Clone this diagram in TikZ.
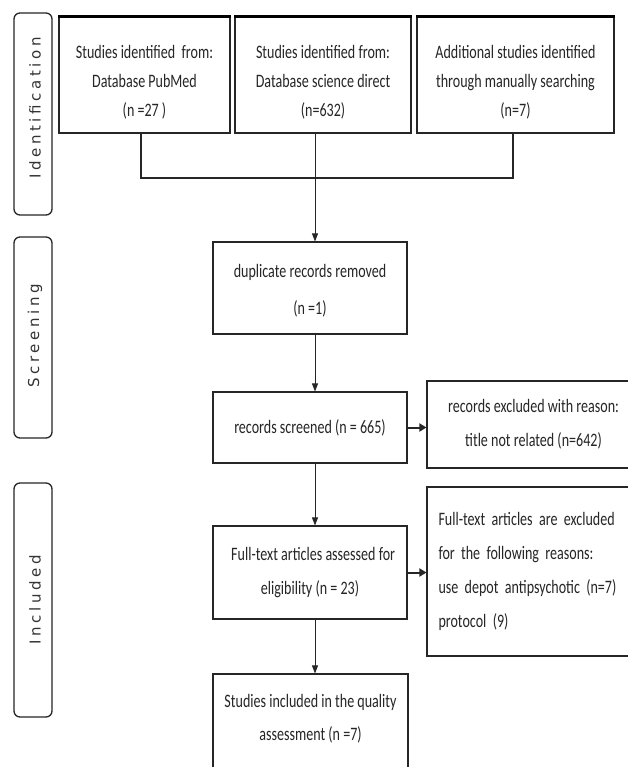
\documentclass[tikz,border=0pt]{standalone}
\usepackage{fontspec}
\usetikzlibrary{arrows.meta,calc}
\newfontfamily\boxfont{Carlito}[FakeStretch=0.74]
\newfontfamily\labfont{DejaVu Sans}[LetterSpace=24]
\tikzset{
  x=1pt, y=-1pt,
  boxnode/.style={draw=black!85, line width=1.1pt, inner sep=0pt, align=center,
    text=black!85, font=\boxfont\fontsize{19}{34}\selectfont},
  topbox/.style={boxnode, font=\boxfont\fontsize{19}{29}\selectfont, minimum height=116pt},
  txtnode/.style={inner sep=0pt, align=center, text=black!85, font=\boxfont\fontsize{19}{33}\selectfont},
  stagebox/.style={draw=black!85, line width=1.3pt, rounded corners=6pt, minimum width=38pt, inner sep=0pt},
  stagetext/.style={rotate=90, text=black!80, font=\labfont\fontsize{15}{16}\selectfont, inner sep=0pt},
  arr/.style={draw=black!85, line width=0.8pt, -{Triangle[length=8pt,width=6pt]}},
  harr/.style={draw=black!85, line width=2pt, -{Triangle[length=7pt,width=8pt]}},
  conn/.style={draw=black!85, line width=1.1pt}
}
\begin{document}
\begin{tikzpicture}
\useasboundingbox[fill=white] (0,0) rectangle (628,767);

% stage labels
\node[stagebox, minimum height=202pt] (s1) at (33,114) {};
\node[stagetext] (s1t) at (35,108) {Identification};
\node[stagebox, minimum height=201pt] (s2) at (33,337.5) {};
\node[stagetext] (s2t) at (35,336) {Screening};
\node[stagebox, minimum height=234pt] (s3) at (33,600) {};
\node[stagetext] (s3t) at (35,600) {Included};

% identification boxes
\node[topbox, minimum width=171pt] (b1) at (144.5,75) {\rule{0pt}{27pt}Studies identified\ \ from:\\Database PubMed\\(n =27 )};
\node[topbox, minimum width=176pt] (b2) at (323,75) {\rule{0pt}{27pt}Studies identified from:\\Database science direct\\(n=632)};
\node[topbox, minimum width=197pt] (b3) at (515.5,75) {\rule{0pt}{27pt}Additional studies identified\\through manually searching\\(n=7)};
\foreach \b in {b1,b2,b3}{
  \draw[black, line width=2.6pt] (\b.north west) -- (\b.north east);
}

% screening
\node[boxnode, minimum width=194pt, minimum height=92pt, font=\boxfont\fontsize{19}{37}\selectfont] (dup) at (310,288) {\rule{0pt}{19pt}duplicate records removed\\(n =1)};
\node[boxnode, minimum width=194pt, minimum height=71pt] (scr) at (310,427.5) {records screened (n = 665)};
\node[boxnode, minimum width=213pt, minimum height=87pt] (exc1) at (533.5,424.5) {records excluded with reason:\\title not related (n=642)};

% included
\node[boxnode, minimum width=194pt, minimum height=93pt] (ft) at (310,572.5) {\ \ Full-text articles assessed for\\eligibility (n = 23)};
\node[boxnode, minimum width=213pt, minimum height=169pt, align=left, text width=190pt] (exc2) at (533.5,571.5) {Full-text articles are excluded\\for the following reasons:\\use depot antipsychotic (n=7)\\protocol (9)};
\node[boxnode, minimum width=195pt, minimum height=116pt] (inc) at (310.5,732) {};
\node[txtnode] (inct) at (310.5,719) {Studies included in the quality\\assessment (n =7)};

% connectors
\coordinate (j) at (315,178);
\draw[conn] (b1.south -| 141,0) -- (141,178) -- (513,178) -- (b3.south -| 513,0);
\draw[arr] (b2.south -| j) -- (dup.north -| j);
\draw[arr] (dup.south -| j) -- (scr.north -| j);
\draw[harr] (scr.east) -- (exc1.west |- scr.east);
\draw[arr] (scr.south -| j) -- (ft.north -| j);
\draw[harr] (ft.east) -- (exc2.west |- ft.east);
\draw[arr] (ft.south -| j) -- (inc.north -| j);
\end{tikzpicture}
\end{document}
